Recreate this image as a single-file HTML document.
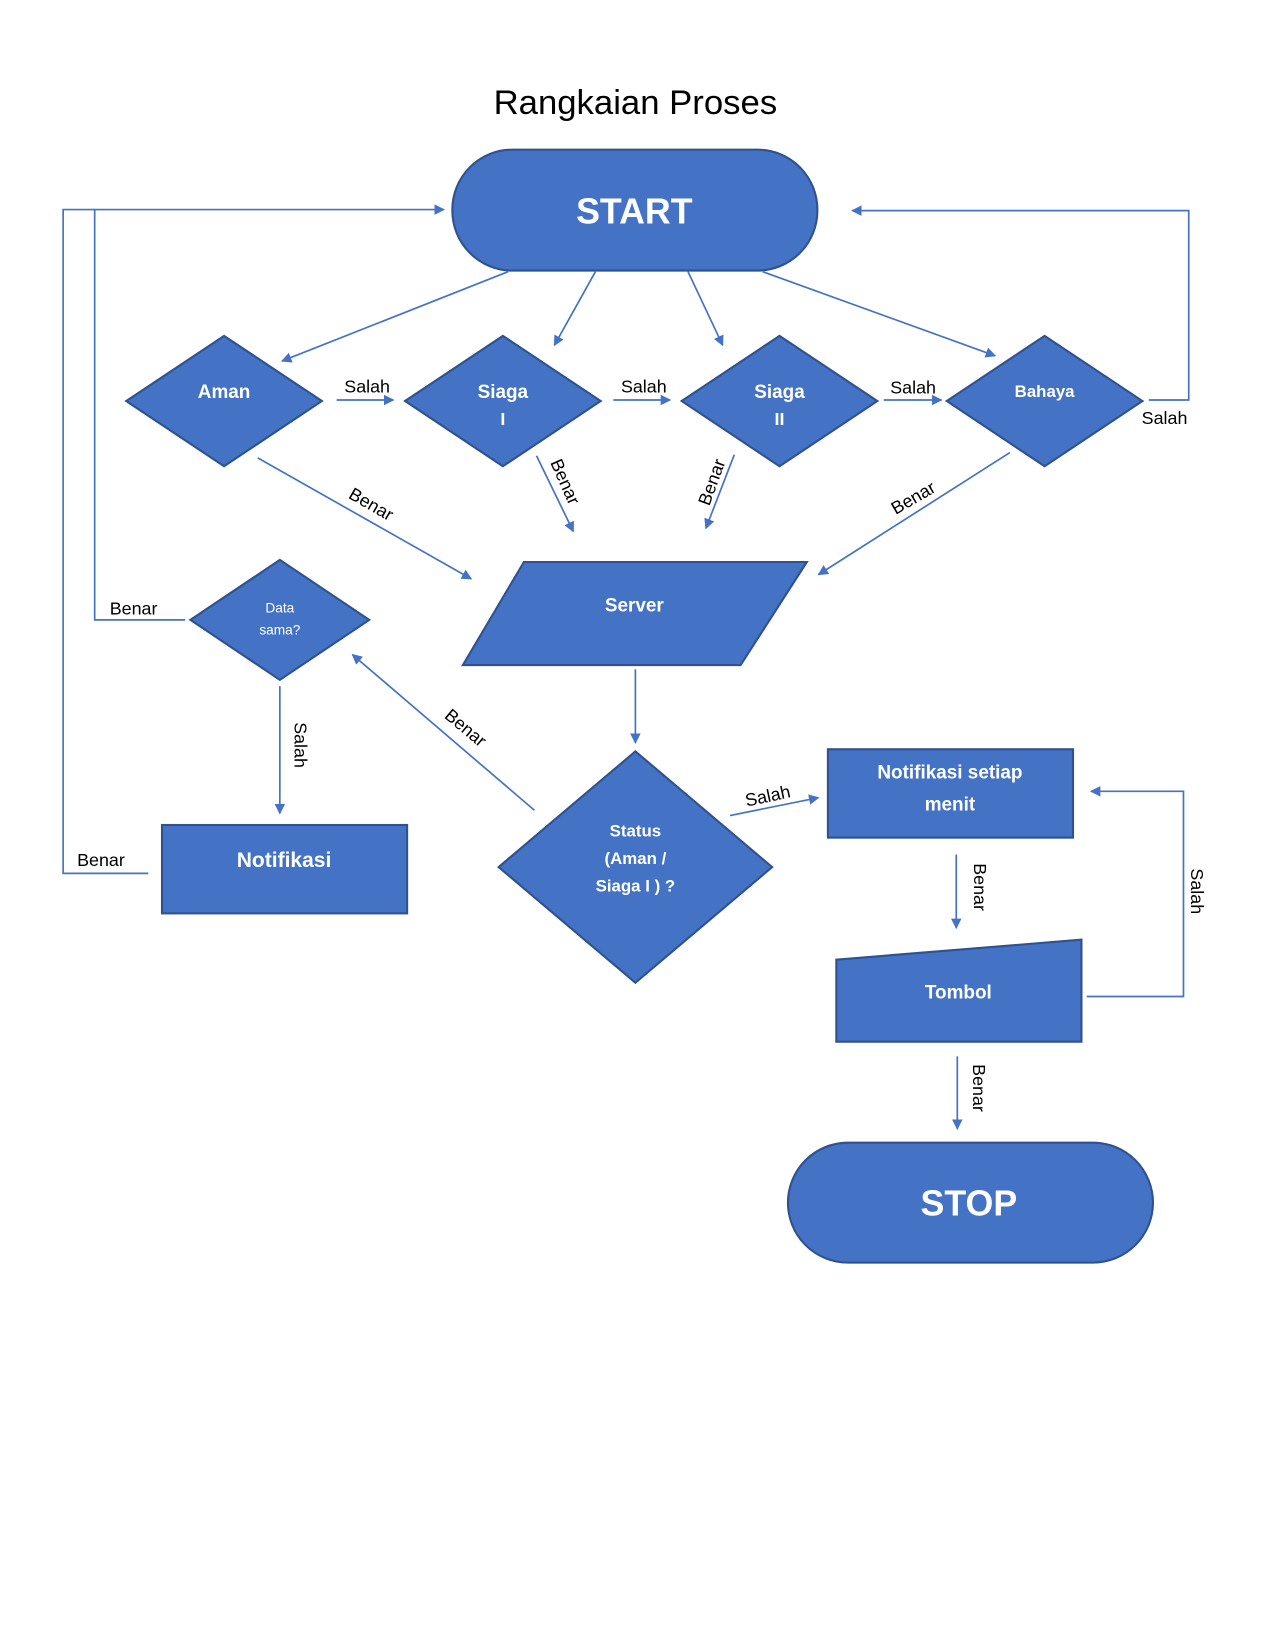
<!DOCTYPE html>
<html><head><meta charset="utf-8"><style>html,body{margin:0;padding:0;background:#fff}svg{display:block}</style></head>
<body>
<svg width="1275" height="1650" viewBox="0 0 1212 1568" xmlns="http://www.w3.org/2000/svg" font-family="Liberation Sans, sans-serif">
<defs><marker id="a" markerWidth="10" markerHeight="10" refX="9" refY="5" orient="auto" markerUnits="userSpaceOnUse"><path d="M0,0 L10,5 L0,10 z" fill="#4472C4"/></marker></defs>
<text x="604" y="108" font-size="33" text-anchor="middle" fill="#000">Rangkaian Proses</text>
<g fill="#4472C4" stroke="#2F528F" stroke-width="2">
<rect x="430" y="142" width="347" height="115" rx="57"/>
<polygon points="120,381 213,319 306,381 213,443"/>
<polygon points="385,381 478,319 571,381 478,443"/>
<polygon points="648,381 741,319 834,381 741,443"/>
<polygon points="900,381 993,319 1086,381 993,443"/>
<polygon points="181,589 266,532 351,589 266,646"/>
<polygon points="498,534 767,534 704,632 440,632"/>
<polygon points="474,824 604,714 734,824 604,934"/>
<rect x="154" y="784" width="233" height="84"/>
<rect x="787" y="712" width="233" height="84"/>
<polygon points="795,912 1028,893 1028,990 795,990"/>
<rect x="749" y="1086" width="347" height="114" rx="57"/>
</g>
<g fill="#fff" font-weight="bold" text-anchor="middle">
<text x="603" y="212" font-size="34">START</text>
<text x="921" y="1155" font-size="34">STOP</text>
<text x="213" y="378" font-size="18">Aman</text>
<text x="478" y="378" font-size="18">Siaga</text><text x="478" y="404" font-size="17">I</text>
<text x="741" y="378" font-size="18">Siaga</text><text x="741" y="404" font-size="17">II</text>
<text x="993" y="377" font-size="16">Bahaya</text>
<text x="266" y="582" font-size="13" font-weight="normal">Data</text>
<text x="266" y="603" font-size="13" font-weight="normal">sama?</text>
<text x="603" y="581" font-size="18">Server</text>
<text x="604" y="795" font-size="16">Status</text>
<text x="604" y="821" font-size="16">(Aman /</text>
<text x="604" y="847" font-size="16">Siaga I ) ?</text>
<text x="270" y="824" font-size="20">Notifikasi</text>
<text x="903" y="740" font-size="18">Notifikasi setiap</text>
<text x="903" y="770" font-size="18">menit</text>
<text x="911" y="949" font-size="18">Tombol</text>
</g>
<g stroke="#4472C4" stroke-width="1.6" fill="none">
<line x1="483" y1="258" x2="268" y2="343" marker-end="url(#a)"/>
<line x1="566" y1="258" x2="527" y2="328" marker-end="url(#a)"/>
<line x1="654" y1="258" x2="687" y2="328" marker-end="url(#a)"/>
<line x1="725" y1="258" x2="946" y2="338" marker-end="url(#a)"/>
<line x1="320" y1="380" x2="374" y2="380" marker-end="url(#a)"/>
<line x1="583" y1="380" x2="637" y2="380" marker-end="url(#a)"/>
<line x1="840" y1="380" x2="895" y2="380" marker-end="url(#a)"/>
<polyline points="1092,380 1130,380 1130,200 810,200" marker-end="url(#a)"/>
<line x1="245" y1="435" x2="448" y2="550" marker-end="url(#a)"/>
<line x1="510" y1="433" x2="545" y2="505" marker-end="url(#a)"/>
<line x1="698" y1="432" x2="671" y2="502" marker-end="url(#a)"/>
<line x1="960" y1="430" x2="778" y2="546" marker-end="url(#a)"/>
<line x1="604" y1="636" x2="604" y2="706" marker-end="url(#a)"/>
<line x1="508" y1="770" x2="335" y2="622" marker-end="url(#a)"/>
<polyline points="176,589 90,589 90,199 422,199" marker-end="url(#a)"/>
<line x1="266" y1="652" x2="266" y2="773" marker-end="url(#a)"/>
<polyline points="141,830 60,830 60,199 90,199"/>
<line x1="694" y1="775" x2="778" y2="758" marker-end="url(#a)"/>
<line x1="909" y1="812" x2="909" y2="882" marker-end="url(#a)"/>
<polyline points="1033,947 1125,947 1125,752 1037,752" marker-end="url(#a)"/>
<line x1="910" y1="1004" x2="910" y2="1073" marker-end="url(#a)"/>
</g>
<g font-size="17" fill="#000" text-anchor="middle">
<text x="349" y="373">Salah</text>
<text x="612" y="373">Salah</text>
<text x="868" y="374">Salah</text>
<text x="1107" y="403">Salah</text>
<text x="127" y="584">Benar</text>
<text x="96" y="823">Benar</text>
<text transform="translate(350,484) rotate(30)">Benar</text>
<text transform="translate(532,460) rotate(66)">Benar</text>
<text transform="translate(682,460) rotate(-70)">Benar</text>
<text transform="translate(871,478) rotate(-30)">Benar</text>
<text transform="translate(439,696) rotate(40)">Benar</text>
<text transform="translate(280,708) rotate(90)">Salah</text>
<text transform="translate(731,762) rotate(-12)">Salah</text>
<text transform="translate(926,843) rotate(90)">Benar</text>
<text transform="translate(1132,847) rotate(90)">Salah</text>
<text transform="translate(925,1034) rotate(90)">Benar</text>
</g>
</svg>
</body></html>
